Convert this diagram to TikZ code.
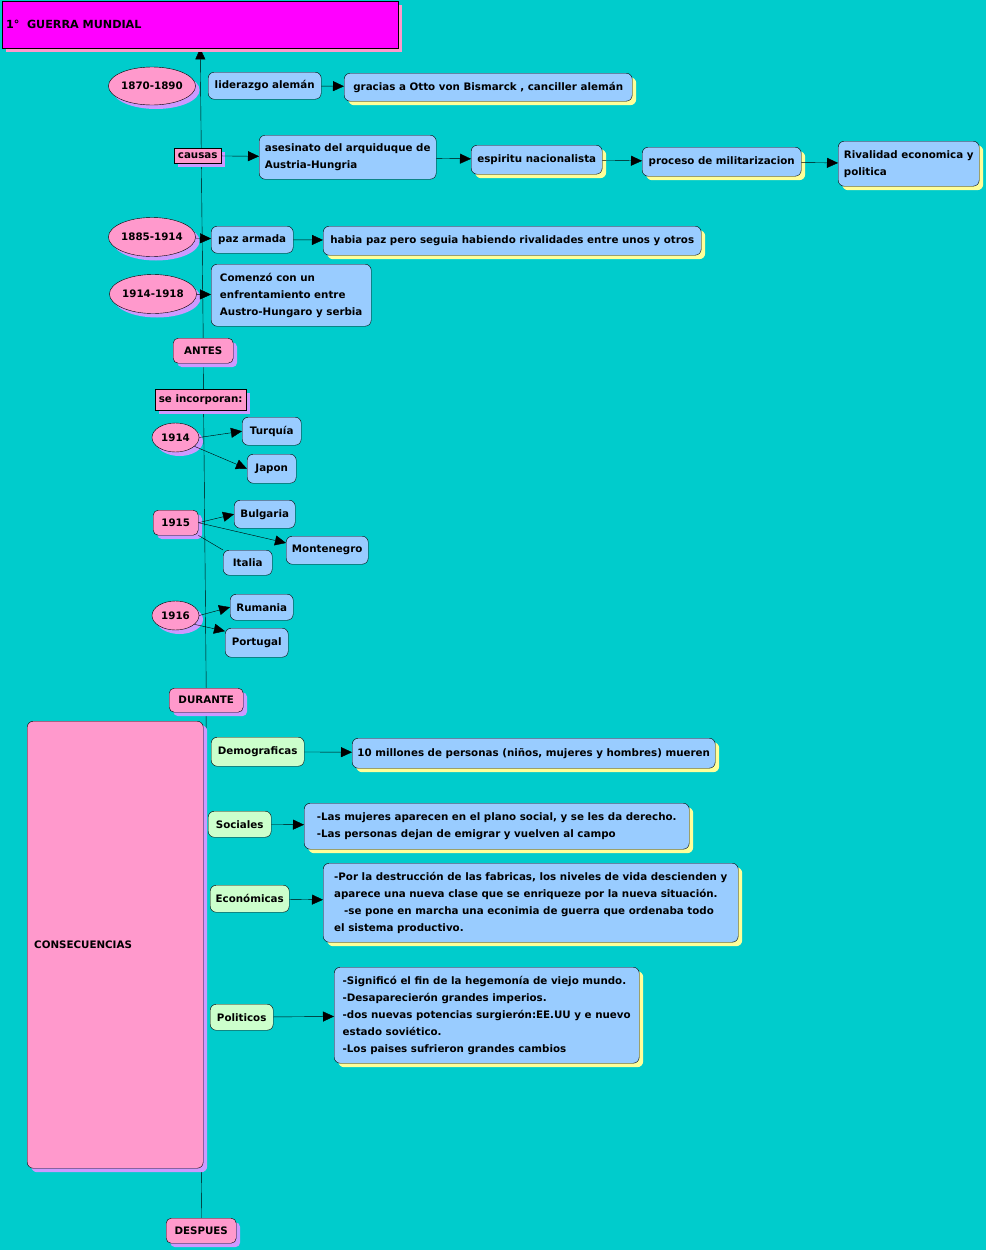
\documentclass[tikz,border=0pt]{standalone}
\usepackage{fontspec}
\setmainfont{DejaVu Sans}
\usetikzlibrary{shapes.geometric,shadows,arrows.meta,backgrounds}
\definecolor{fondo}{HTML}{00CCCC}
\definecolor{fucsia}{HTML}{FF00FF}
\definecolor{rosa}{HTML}{FF99CC}
\definecolor{lila}{HTML}{CC99FF}
\definecolor{azul}{HTML}{99CCFF}
\definecolor{verde}{HTML}{CCFFCC}
\definecolor{amarillo}{HTML}{FFFF99}
\tikzstyle{sombralila} = [drop shadow={shadow xshift=4pt, shadow yshift=-4pt, fill=lila, opacity=1}]
\tikzstyle{sombraamarilla} = [drop shadow={shadow xshift=4pt, shadow yshift=-4pt, fill=amarillo, opacity=1}]
\tikzstyle{titulo} = [draw, fill=fucsia, rectangle, anchor=north west, minimum height=47pt, text width=388pt, inner xsep=4pt, align=left, font=\fontsize{11.2}{17}\selectfont\bfseries, drop shadow={shadow xshift=4pt, shadow yshift=-4pt, fill=rosa, opacity=1}]
\tikzstyle{fecha} = [draw, fill=rosa, ellipse, inner sep=0pt, sombralila]
\tikzstyle{etapa} = [draw, fill=rosa, rectangle, rounded corners=5pt, anchor=north west, inner sep=2pt, sombralila]
\tikzstyle{etiqueta} = [draw, fill=rosa, rectangle, anchor=north west, inner sep=2pt, sombralila]
\tikzstyle{dato} = [draw, fill=azul, rectangle, rounded corners=6pt, anchor=north west, inner sep=3pt, align=left]
\tikzstyle{datosombra} = [dato, sombraamarilla]
\tikzstyle{tipo} = [draw, fill=verde, rectangle, rounded corners=6pt, anchor=north west, inner sep=2pt]
\tikzstyle{flecha} = [-{Triangle[length=11pt,width=10pt]}]

\begin{document}
\begin{tikzpicture}[x=1pt, y=-1pt, line width=1pt, every node/.style={font=\fontsize{10.3}{17}\selectfont\bfseries}]
	\useasboundingbox (0,0) rectangle (986,1250);
	\begin{pgfonlayer}{background}
		\fill[fondo] (0,0) rectangle (986,1250);
	\end{pgfonlayer}

	\node[titulo] (titulo) at (2,1) {1°\ \ GUERRA MUNDIAL};

	% antes
	\node[fecha, minimum width=86pt, minimum height=38pt] (f1870) at (152,86) {1870-1890};
	\node[dato, minimum width=113pt, minimum height=27pt] (liderazgo) at (208,72) {liderazgo alemán};
	\node[datosombra, minimum width=288pt, minimum height=28pt] (bismarck) at (344,73) {gracias a Otto von Bismarck , canciller alemán};
	\node[etiqueta, minimum width=47pt, minimum height=15pt, inner sep=1pt] (causas) at (174,148) {causas};
	\node[dato, minimum width=177pt, minimum height=44pt] (asesinato) at (259,135) {asesinato del arquiduque de\\Austria-Hungria};
	\node[datosombra, minimum width=131pt, minimum height=29pt] (nacionalismo) at (471,145) {espiritu nacionalista};
	\node[datosombra, minimum width=159pt, minimum height=29pt] (militarizacion) at (642,147) {proceso de militarizacion};
	\node[datosombra, minimum width=141pt, minimum height=45pt] (rivalidad) at (838,141) {Rivalidad economica y\\politica};
	\node[fecha, minimum width=85pt, minimum height=39pt] (f1885) at (152,237) {1885-1914};
	\node[dato, minimum width=82pt, minimum height=27pt] (pazarmada) at (211,226) {paz armada};
	\node[datosombra, minimum width=378pt, minimum height=29pt] (rivalidades) at (323,226) {habia paz pero seguia habiendo rivalidades entre unos y otros};
	\node[fecha, minimum width=86pt, minimum height=39pt] (f1914) at (153,294) {1914-1918};
	\node[dato, minimum width=160pt, minimum height=62pt] (comienzo) at (211,264) {Comenzó con un\\enfrentamiento entre\\Austro-Hungaro y serbia};
	\node[etapa, minimum width=60pt, minimum height=25pt] (antes) at (173,338) {ANTES};

	% durante
	\node[etiqueta, minimum width=91pt, minimum height=21pt] (incorporan) at (155,389) {se incorporan:};
	\node[fecha, minimum width=47pt, minimum height=29pt] (a1914) at (175.5,437.5) {1914};
	\node[dato, minimum width=59pt, minimum height=28pt] (turquia) at (242,417) {Turquía};
	\node[dato, minimum width=49pt, minimum height=29pt] (japon) at (247,454) {Japon};
	\node[etapa, minimum width=45pt, minimum height=25pt] (a1915) at (153,510) {1915};
	\node[dato, minimum width=61pt, minimum height=28pt] (bulgaria) at (234,500) {Bulgaria};
	\node[dato, minimum width=82pt, minimum height=28pt] (montenegro) at (286,536) {Montenegro};
	\node[dato, minimum width=49pt, minimum height=25pt] (italia) at (223,550) {Italia};
	\node[fecha, minimum width=47pt, minimum height=29pt] (a1916) at (175.5,615.5) {1916};
	\node[dato, minimum width=63pt, minimum height=26pt] (rumania) at (230,594) {Rumania};
	\node[dato, minimum width=63pt, minimum height=29pt] (portugal) at (225,628) {Portugal};
	\node[etapa, minimum width=74pt, minimum height=24pt] (durante) at (169,688) {DURANTE};

	% despues
	\node[etapa, rounded corners=6pt, minimum height=447pt, text width=162pt, inner xsep=7pt, align=left] (consecuencias) at (27,721) {CONSECUENCIAS};
	\node[tipo, minimum width=93pt, minimum height=29pt] (demograficas) at (211,737) {Demograficas};
	\node[datosombra, minimum width=363pt, minimum height=30pt] (millones) at (352,738) {10 millones de personas (niños, mujeres y hombres) mueren};
	\node[tipo, minimum width=63pt, minimum height=26pt] (sociales) at (208,811) {Sociales};
	\node[datosombra, minimum width=385pt, minimum height=46pt] (mujeres) at (304,803) {-Las mujeres aparecen en el plano social, y se les da derecho.\\-Las personas dejan de emigrar y vuelven al campo};
	\node[tipo, minimum width=79pt, minimum height=27pt] (economicas) at (210,885) {Económicas};
	\node[datosombra, minimum width=415pt, minimum height=79pt] (fabricas) at (323,863) {-Por la destrucción de las fabricas, los niveles de vida descienden y\\aparece una nueva clase que se enriqueze por la nueva situación.\\\hspace{10pt}-se pone en marcha una econimia de guerra que ordenaba todo\\el sistema productivo.};
	\node[tipo, minimum width=63pt, minimum height=26pt] (politicos) at (210,1004) {Politicos};
	\node[datosombra, minimum width=305pt, minimum height=96pt] (significo) at (334,967) {-Significó el fin de la hegemonía de viejo mundo.\\-Desaparecierón grandes imperios.\\-dos nuevas potencias surgierón:EE.UU y e nuevo\\estado soviético.\\-Los paises sufrieron grandes cambios};
	\node[etapa, minimum width=70pt, minimum height=25pt] (despues) at (166,1218) {DESPUES};

	\begin{pgfonlayer}{background}
		\draw (despues.north) -- (durante.south);
		\draw (durante.north) -- (antes.south);
		\draw[flecha] (antes.north) -- (titulo.south);
	\end{pgfonlayer}

	\draw[flecha] (liderazgo) -- (bismarck);
	\draw[flecha] (causas) -- (asesinato);
	\draw[flecha] (asesinato) -- (nacionalismo);
	\draw[flecha] (nacionalismo) -- (militarizacion);
	\draw[flecha] (militarizacion) -- (rivalidad);
	\draw[flecha] (f1885) -- (pazarmada);
	\draw[flecha] (pazarmada) -- (rivalidades);
	\draw[flecha] (f1914) -- (comienzo);
	\draw[flecha] (a1914.east) -- (turquia.west);
	\draw[flecha] (a1914.-25) -- (japon.west);
	\draw[flecha] (a1915.east) -- (bulgaria.west);
	\draw[flecha] (a1915.east) -- (montenegro.170);
	\draw (a1915.south east) -- (italia.north west);
	\draw[flecha] (a1916.east) -- (rumania.west);
	\draw[flecha] (a1916.-25) -- (portugal.160);
	\draw[flecha] (demograficas) -- (millones);
	\draw[flecha] (sociales) -- (mujeres);
	\draw[flecha] (economicas) -- (fabricas);
	\draw[flecha] (politicos) -- (significo);
\end{tikzpicture}
\end{document}
